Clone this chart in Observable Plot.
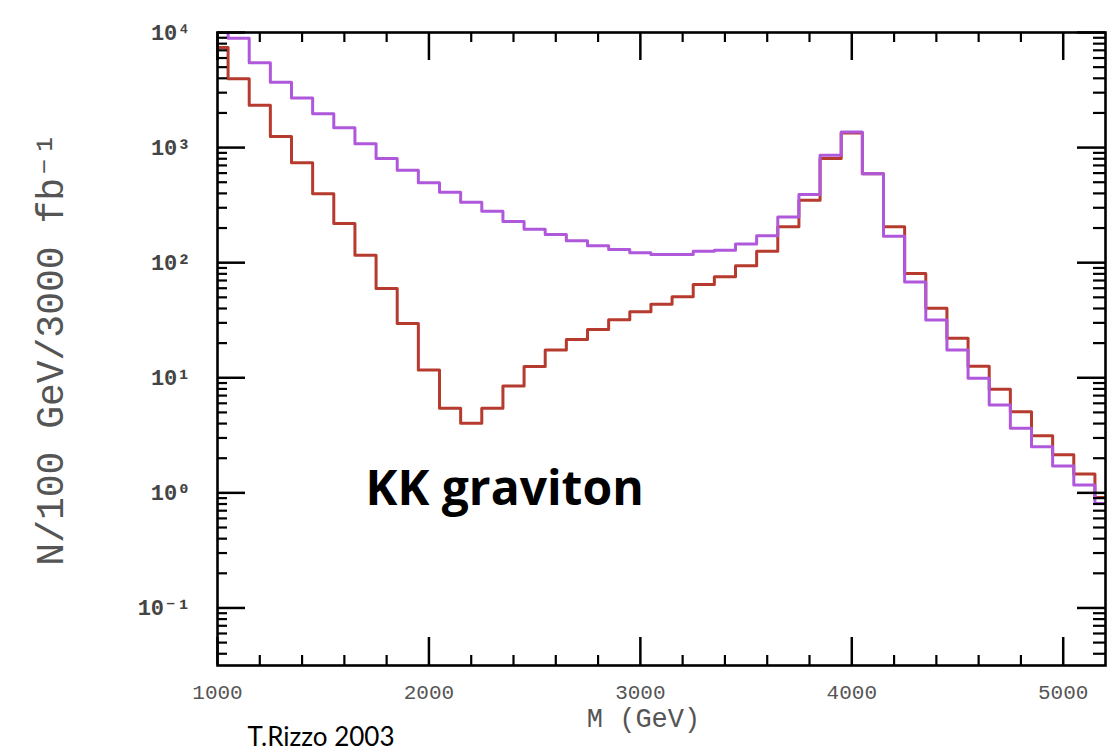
<!DOCTYPE html>
<html>
<head>
<meta charset="utf-8">
<script src="https://cdn.jsdelivr.net/npm/d3@7"></script>
<script src="https://cdn.jsdelivr.net/npm/@observablehq/plot@0.6"></script>
<style>
  html, body { margin: 0; padding: 0; background: #fff; overflow: hidden; }
  #chart svg { display: block; }
</style>
</head>
<body>
<div id="chart"></div>
<script>
// Bin centres (GeV), 100 GeV bins
const mass = [1000,1100,1200,1300,1400,1500,1600,1700,1800,1900,
              2000,2100,2200,2300,2400,2500,2600,2700,2800,2900,
              3000,3100,3200,3300,3400,3500,3600,3700,3800,3900,
              4000,4100,4200,4300,4400,4500,4600,4700,4800,4900,
              5000,5100,5200];

// Red histogram (with the deep dip near 2200 GeV)
const redCounts = [7400,3960,2330,1250,740,398,219,116,59.7,29.6,
                   11.7,5.43,4.03,5.43,8.47,12.5,17.4,21.5,26.3,32,
                   37.4,43.6,50.5,64.7,75.3,93.9,126,205,348,802,
                   1340,594,205,80.5,40.1,22,12.6,7.94,5.07,3.13,
                   2.14,1.46,0.91];

// Purple histogram
const purpleCounts = [10000,8900,5460,3700,2700,1970,1490,1080,802,635,
                      495,410,335,280,228,195,176,155,140,130,
                      122,118,118,126,128,145,171,250,391,857,
                      1365,594,170,68,31.7,17.4,9.9,5.81,3.64,2.52,
                      1.71,1.17,0.81];

// Axis ticks and labels
const xMajorTicks = [1000,2000,3000,4000,5000];
const xMinorTicks = [1200,1400,1600,1800,2200,2400,2600,2800,3200,3400,3600,3800,4200,4400,4600,4800];
const yMajorTicks = [0.1,1,10,100,1000,10000];
const yTickLabels = ["10\u207B\u00B9","10\u2070","10\u00B9","10\u00B2","10\u00B3","10\u2074"];
const yMinorTicks = [0.04,0.05,0.06,0.07,0.08,0.09,
                     0.2,0.3,0.4,0.5,0.6,0.7,0.8,0.9,
                     2,3,4,5,6,7,8,9,
                     20,30,40,50,60,70,80,90,
                     200,300,400,500,600,700,800,900,
                     2000,3000,4000,5000,6000,7000,8000,9000];

const xLabel = "M (GeV)";
const yLabel = "N/100 GeV/3000 fb\u207B\u00B9";
const annotation = "KK graviton";
const credit = "T.Rizzo 2003";

const redRows = mass.map((m, i) => ({m, v: redCounts[i]}));
const purpleRows = mass.map((m, i) => ({m, v: purpleCounts[i]}));

const W = 1107, H = 754;
const mL = 217, mR = 2, mT = 32, mB = 89;
const innerW = W - mL - mR, innerH = H - mT - mB;
const major = 28, minor = 10;

const mono = "'Liberation Mono', 'DejaVu Sans Mono', monospace";
const redColor = "#b63b2e";
const purpleColor = "#b058dc";

const chart = Plot.plot({
  width: W,
  height: H,
  marginLeft: mL, marginRight: mR, marginTop: mT, marginBottom: mB,
  style: {background: "#fff", color: "#000"},
  x: {domain: [1000, 5200]},
  y: {type: "log", domain: [Math.pow(10, -1.5), 1e4]},
  marks: [
    Plot.lineY(redRows, {x: "m", y: "v", curve: "step", stroke: redColor, strokeWidth: 3, clip: true}),
    Plot.lineY(purpleRows, {x: "m", y: "v", curve: "step", stroke: purpleColor, strokeWidth: 3, clip: true}),
    // inward ticks: bottom & top
    Plot.tickX(xMajorTicks, {x: d => d, insetTop: innerH - major, stroke: "#000", strokeWidth: 2.5}),
    Plot.tickX(xMajorTicks, {x: d => d, insetBottom: innerH - major, stroke: "#000", strokeWidth: 2.5}),
    Plot.tickX(xMinorTicks, {x: d => d, insetTop: innerH - minor, stroke: "#000", strokeWidth: 2.2}),
    Plot.tickX(xMinorTicks, {x: d => d, insetBottom: innerH - minor, stroke: "#000", strokeWidth: 2.2}),
    // inward ticks: left & right
    Plot.tickY(yMajorTicks, {y: d => d, insetRight: innerW - major, stroke: "#000", strokeWidth: 2.5}),
    Plot.tickY(yMajorTicks, {y: d => d, insetLeft: innerW - major, stroke: "#000", strokeWidth: 2.5}),
    Plot.tickY(yMinorTicks, {y: d => d, insetRight: innerW - minor, stroke: "#000", strokeWidth: 2.2}),
    Plot.tickY(yMinorTicks, {y: d => d, insetLeft: innerW - minor - 2, stroke: "#000", strokeWidth: 2.2}),
    Plot.frame({stroke: "#000", strokeWidth: 2.6}),
    // tick labels
    Plot.axisX({ticks: xMajorTicks, tickSize: 0, tickPadding: 19, tickFormat: d => String(d),
                fontSize: 21, fontFamily: mono, fill: "#555", label: null}),
    Plot.axisY({ticks: yMajorTicks, tickSize: 0, tickPadding: 27,
                tickFormat: d => yTickLabels[yMajorTicks.indexOf(d)],
                fontSize: 22, fontFamily: mono, fontWeight: "bold", fill: "#444", label: null}),
    // axis titles
    Plot.text([yLabel], {frameAnchor: "left", dx: -167, rotate: -90, textAnchor: "middle", lineAnchor: "middle",
                         fontSize: 38, fontFamily: mono, fill: "#555"}),
    Plot.text([xLabel], {frameAnchor: "bottom", dx: -18, dy: 53, textAnchor: "middle", lineAnchor: "middle",
                         fontSize: 27, fontFamily: mono, fill: "#555"}),
    // annotations
    Plot.text([annotation], {x: 1700, y: 0.79, textAnchor: "start", lineAnchor: "bottom",
                             fontSize: 48, fontWeight: "bold", fontFamily: "'Open Sans', Lato, sans-serif", fill: "#000"}),
    Plot.text([credit], {frameAnchor: "bottom-left", dx: 30, dy: 80, textAnchor: "start", lineAnchor: "bottom",
                         fontSize: 26, fontFamily: "Lato, 'Open Sans', sans-serif", fill: "#000"})
  ]
});

document.getElementById("chart").appendChild(chart);
</script>
</body>
</html>
